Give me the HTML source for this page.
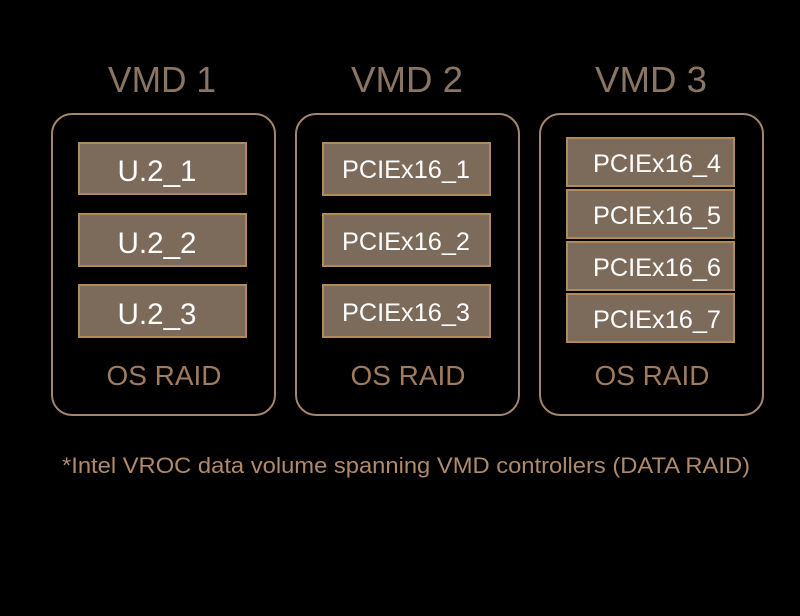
<!DOCTYPE html>
<html><head><meta charset="utf-8"><style>
html,body{margin:0;padding:0;background:#000;}
svg{display:block;}
text{font-family:"Liberation Sans",sans-serif;}
</style></head><body>
<svg width="800" height="616" viewBox="0 0 800 616" xmlns="http://www.w3.org/2000/svg">
<rect width="800" height="616" fill="#000"/>
<g fill="#8a7563" font-size="36" text-anchor="middle">
<text x="162" y="92" textLength="108" lengthAdjust="spacingAndGlyphs">VMD 1</text>
<text x="407" y="92" textLength="112" lengthAdjust="spacingAndGlyphs">VMD 2</text>
<text x="651" y="92" textLength="112" lengthAdjust="spacingAndGlyphs">VMD 3</text>
</g>
<g fill="none" stroke="#a4856b" stroke-width="2">
<rect x="52" y="114" width="223" height="301" rx="20"/>
<rect x="296" y="114" width="223" height="301" rx="20"/>
<rect x="540" y="114" width="223" height="301" rx="20"/>
</g>
<g fill="#7c6a5b" stroke="#b08a58" stroke-width="2">
<rect x="79" y="143" width="167" height="51"/>
<rect x="79" y="214" width="167" height="52"/>
<rect x="79" y="285" width="167" height="52"/>
<rect x="323" y="143" width="167" height="52"/>
<rect x="323" y="214" width="167" height="52"/>
<rect x="323" y="285" width="167" height="52"/>
<rect x="567" y="138" width="167" height="48"/>
<rect x="567" y="190" width="167" height="48"/>
<rect x="567" y="242" width="167" height="48"/>
<rect x="567" y="294" width="167" height="48"/>
</g>
<g fill="#fff" font-size="30" text-anchor="middle">
<text x="157" y="181" textLength="79" lengthAdjust="spacingAndGlyphs">U.2_1</text>
<text x="157" y="253" textLength="79" lengthAdjust="spacingAndGlyphs">U.2_2</text>
<text x="157" y="324" textLength="79" lengthAdjust="spacingAndGlyphs">U.2_3</text>
</g>
<g fill="#fff" font-size="25" text-anchor="middle">
<text x="406" y="178" textLength="128" lengthAdjust="spacingAndGlyphs">PCIEx16_1</text>
<text x="406" y="250" textLength="128" lengthAdjust="spacingAndGlyphs">PCIEx16_2</text>
<text x="406" y="321" textLength="128" lengthAdjust="spacingAndGlyphs">PCIEx16_3</text>
<text x="657" y="172" textLength="128" lengthAdjust="spacingAndGlyphs">PCIEx16_4</text>
<text x="657" y="224" textLength="128" lengthAdjust="spacingAndGlyphs">PCIEx16_5</text>
<text x="657" y="276" textLength="128" lengthAdjust="spacingAndGlyphs">PCIEx16_6</text>
<text x="657" y="328" textLength="128" lengthAdjust="spacingAndGlyphs">PCIEx16_7</text>
</g>
<g fill="#a07a5c" font-size="28" text-anchor="middle">
<text x="164" y="385" textLength="115" lengthAdjust="spacingAndGlyphs">OS RAID</text>
<text x="408" y="385" textLength="115" lengthAdjust="spacingAndGlyphs">OS RAID</text>
<text x="652" y="385" textLength="115" lengthAdjust="spacingAndGlyphs">OS RAID</text>
</g>
<text x="406" y="473" fill="#b08a6a" font-size="22" text-anchor="middle" textLength="688" lengthAdjust="spacingAndGlyphs">*Intel VROC data volume spanning VMD controllers (DATA RAID)</text>
</svg>
</body></html>
